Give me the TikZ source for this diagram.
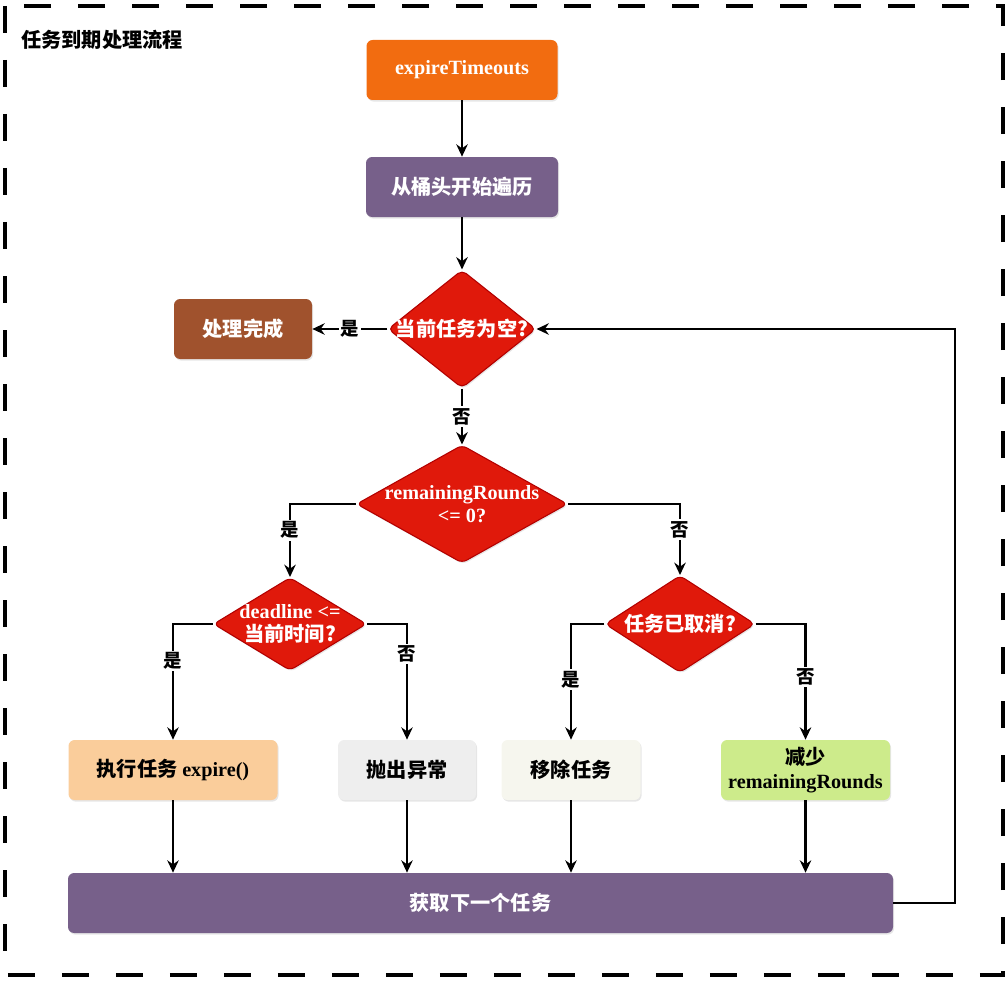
\documentclass[tikz,border=0pt]{standalone}
\usepackage{fontspec}
\setmainfont{Noto Sans CJK SC}
\newfontfamily\lat{Liberation Serif}
\usetikzlibrary{shapes.geometric,shadows,arrows.meta}
\definecolor{orangeA}{HTML}{F26C10}
\definecolor{purpleA}{HTML}{77608A}
\definecolor{redA}{HTML}{E0190B}
\definecolor{redB}{HTML}{B20000}
\definecolor{brownA}{HTML}{A0522D}
\definecolor{peachA}{HTML}{FACD9B}
\definecolor{greyA}{HTML}{EEEEEE}
\definecolor{beigeA}{HTML}{F6F6EE}
\definecolor{greenA}{HTML}{CDEB8B}
\tikzset{
  box/.style={rectangle, rounded corners=3.5pt, minimum height=1.2cm, inner sep=2pt,
    align=center, font=\fontsize{11.5}{14}\selectfont\bfseries,
    drop shadow={opacity=0.2, shadow xshift=0.6pt, shadow yshift=-0.9pt}},
  decision/.style={diamond, rounded corners=3pt, fill=redA, draw=redB, line width=0.6pt,
    inner sep=0pt, drop shadow={opacity=0.2, shadow xshift=0.6pt, shadow yshift=-0.9pt}},
  dtext/.style={text=white, align=center, font=\fontsize{11.5}{13}\selectfont\bfseries},
  yn/.style={fill=white, inner sep=1pt, font=\fontsize{10.5}{12}\selectfont\bfseries},
  flow/.style={->, >={Stealth[length=7pt,width=6.5pt]}, line width=1.3pt}
}

\begin{document}
\begin{tikzpicture}
  \useasboundingbox (0,0) rectangle (20.16,-19.66);
  \draw[line width=2.2pt, dash pattern=on 0.54cm off 0.54cm] (0.1,-0.12) rectangle (20.06,-19.5);
  \node[anchor=west, font=\fontsize{11.5}{14}\selectfont\bfseries] (title) at (0.3,-0.8) {任务到期处理流程};

  \node[box, fill=orangeA, text=white, minimum width=3.82cm] (start) at (9.24,-1.4) {\lat expireTimeouts};
  \node[box, fill=purpleA, text=white, minimum width=3.84cm] (scan) at (9.24,-3.74) {从桶头开始遍历};
  \node[decision, minimum width=2.96cm, minimum height=2.36cm] (empty) at (9.24,-6.58) {};
  \node[dtext] at (empty) {当前任务为空?};
  \node[box, fill=brownA, text=white, minimum width=2.76cm] (done) at (4.86,-6.58) {处理完成};
  \node[decision, minimum width=4.22cm, minimum height=2.36cm] (rounds) at (9.24,-10.08) {};
  \node[dtext] at (rounds) {\lat remainingRounds\\\lat <= 0?};
  \node[decision, minimum width=3.06cm, minimum height=1.86cm] (dead) at (5.8,-12.48) {};
  \node[dtext] at (dead) {\lat deadline <=\\当前时间?};
  \node[decision, minimum width=3.0cm, minimum height=1.94cm] (cancel) at (13.6,-12.48) {};
  \node[dtext] at (cancel) {任务已取消?};

  \node[box, fill=peachA, minimum width=4.18cm] (run) at (3.46,-15.4) {执行任务 {\lat expire()}};
  \node[box, fill=greyA, minimum width=2.76cm] (err) at (8.14,-15.4) {抛出异常};
  \node[box, fill=beigeA, minimum width=2.78cm] (del) at (11.42,-15.4) {移除任务};
  \node[box, fill=greenA, minimum width=3.38cm] (dec) at (16.11,-15.4) {减少\\\lat remainingRounds};
  \node[box, fill=purpleA, text=white, minimum width=16.5cm] (next) at (9.61,-18.06) {获取下一个任务};
  \coordinate (loop) at (19.1,-18.06);

  \draw[flow] (start) -- (scan);
  \draw[flow] (scan) -- (empty);
  \draw[flow] (empty.west) -- node[yn] {是} (done.east);
  \draw[flow] (empty) -- node[yn] {否} (rounds);
  \draw[flow] (rounds.west) -| node[yn, pos=0.68] {是} (dead.north);
  \draw[flow] (rounds.east) -| node[yn, pos=0.68] {否} (cancel.north);
  \draw[flow] (dead.west) -| node[yn, pos=0.66] {是} (run.north);
  \draw[flow] (dead.east) -| node[yn, pos=0.63] {否} (err.north);
  \draw[flow] (cancel.west) -| node[yn, pos=0.74] {是} (del.north);
  \draw[flow] (cancel.east) -| node[yn, pos=0.73] {否} (dec.north);

  \draw[flow] (run) -- (run |- next.north);
  \draw[flow] (err) -- (err |- next.north);
  \draw[flow] (del) -- (del |- next.north);
  \draw[flow] (dec) -- (dec |- next.north);
  \draw[flow] (next.east) -- (loop) |- (empty.east);
\end{tikzpicture}
\end{document}
